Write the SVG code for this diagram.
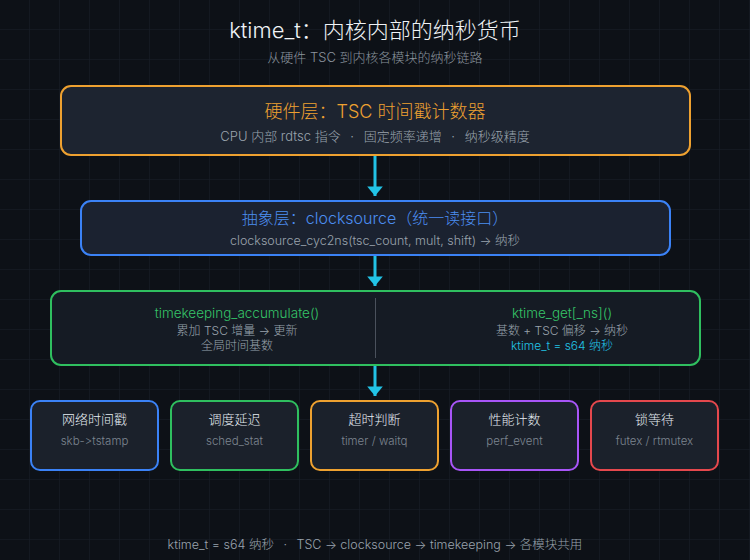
<svg xmlns="http://www.w3.org/2000/svg" width="750" height="560" viewBox="0 0 750 560">
  <defs>
    <pattern id="grid" width="30" height="30" patternUnits="userSpaceOnUse">
      <path d="M30 0 V30 M0 30 H30" fill="none" stroke="#1a2029" stroke-width="1"/>
    </pattern>
    <marker id="arr" viewBox="0 0 10 10" refX="10" refY="5" markerWidth="3.2" markerHeight="5.2" markerUnits="strokeWidth" orient="auto" preserveAspectRatio="none">
      <path d="M0 0 L10 5 L0 10 Z" fill="#22c3e6"/>
    </marker>
    <style>
      text { font-family: "Inter", "Noto Sans CJK SC", sans-serif; text-anchor: middle; font-weight: 300; font-variant-ligatures: none; font-feature-settings: "calt" 0, "liga" 0; }
      .title { font-size: 22px; fill: #f0f3f6; }
      .sub { font-size: 13px; fill: #8b949e; }
      .box { stroke-width: 2; }
      .d { fill: #9aa3ad; }
      .mt { font-size: 13px; fill: #e6edf3; }
      .md { font-size: 11.5px; fill: #7d8590; }
      .conn { stroke: #22c3e6; stroke-width: 3; fill: none; marker-end: url(#arr); }
    </style>
  </defs>
  <rect width="750" height="560" fill="#0d1117"/>
  <rect width="750" height="560" fill="url(#grid)"/>

  <g id="header">
    <text class="title" x="375" y="37.5">ktime_t：内核内部的纳秒货币</text>
    <text class="sub" x="375" y="61.5">从硬件 TSC 到内核各模块的纳秒链路</text>
  </g>

  <g id="hw">
    <rect class="box" x="61" y="86" width="629" height="69" rx="10" fill="#1d2430" stroke="#eea130"/>
    <text x="375" y="117.5" font-size="18" fill="#eea130">硬件层：TSC 时间戳计数器</text>
    <text class="d" x="375" y="140.5" font-size="13">CPU 内部 rdtsc 指令 <tspan dx="6">·</tspan><tspan dx="6"> 固定频率递增 </tspan><tspan dx="6">·</tspan><tspan dx="6"> 纳秒级精度</tspan></text>
  </g>

  <g id="clocksource">
    <rect class="box" x="81" y="201" width="589" height="54" rx="10" fill="#1b2230" stroke="#3b82f6"/>
    <text x="375" y="224" font-size="16" fill="#4b8ef0">抽象层：clocksource（统一读接口）</text>
    <text class="d" x="375" y="244.5" font-size="12.5">clocksource_cyc2ns(tsc_count, mult, shift) → 纳秒</text>
  </g>

  <g id="timekeeping">
    <rect class="box" x="51" y="291" width="649" height="74" rx="10" fill="#151b24" stroke="#2fbf5f"/>
    <line x1="375.5" y1="298" x2="375.5" y2="358" stroke="#4a515c" stroke-width="1"/>
    <text x="237" y="318" font-size="13.5" fill="#35c468">timekeeping_accumulate()</text>
    <text class="d" x="237" y="335" font-size="12">累加 TSC 增量 → 更新</text>
    <text class="d" x="237" y="349.5" font-size="12">全局时间基数</text>
    <text x="562" y="318" font-size="13.5" fill="#35c468">ktime_get[_ns]()</text>
    <text class="d" x="562" y="335" font-size="12">基数 + TSC 偏移 → 纳秒</text>
    <text x="562" y="349.5" font-size="12" fill="#22c3e6">ktime_t = s64 纳秒</text>
  </g>

  <g id="m-net">
    <rect class="box" x="31" y="401" width="127" height="69" rx="9" fill="#1b212b" stroke="#3b82f6"/>
    <text class="mt" x="94.5" y="423.5">网络时间戳</text>
    <text class="md" x="94.5" y="444.5">skb-&gt;tstamp</text>
  </g>
  <g id="m-sched">
    <rect class="box" x="171" y="401" width="127" height="69" rx="9" fill="#1b212b" stroke="#2fbf5f"/>
    <text class="mt" x="234.5" y="423.5">调度延迟</text>
    <text class="md" x="234.5" y="444.5">sched_stat</text>
  </g>
  <g id="m-timer">
    <rect class="box" x="311" y="401" width="127" height="69" rx="9" fill="#1b212b" stroke="#eea130"/>
    <text class="mt" x="374.5" y="423.5">超时判断</text>
    <text class="md" x="374.5" y="444.5">timer / waitq</text>
  </g>
  <g id="m-perf">
    <rect class="box" x="451" y="401" width="127" height="69" rx="9" fill="#1b212b" stroke="#a855f7"/>
    <text class="mt" x="514.5" y="423.5">性能计数</text>
    <text class="md" x="514.5" y="444.5">perf_event</text>
  </g>
  <g id="m-lock">
    <rect class="box" x="591" y="401" width="127" height="69" rx="9" fill="#1b212b" stroke="#e5484d"/>
    <text class="mt" x="654.5" y="423.5">锁等待</text>
    <text class="md" x="654.5" y="444.5">futex / rtmutex</text>
  </g>

  <g id="connectors">
    <line class="conn" x1="375" y1="156" x2="375" y2="196"/>
    <line class="conn" x1="375" y1="256" x2="375" y2="286"/>
    <line class="conn" x1="375" y1="366" x2="375" y2="396"/>
  </g>

  <g id="footer">
    <text class="d" x="375" y="548.5" font-size="12.5">ktime_t = s64 纳秒 <tspan dx="6">·</tspan><tspan dx="6"> TSC → clocksource → timekeeping → 各模块共用</tspan></text>
  </g>
</svg>
